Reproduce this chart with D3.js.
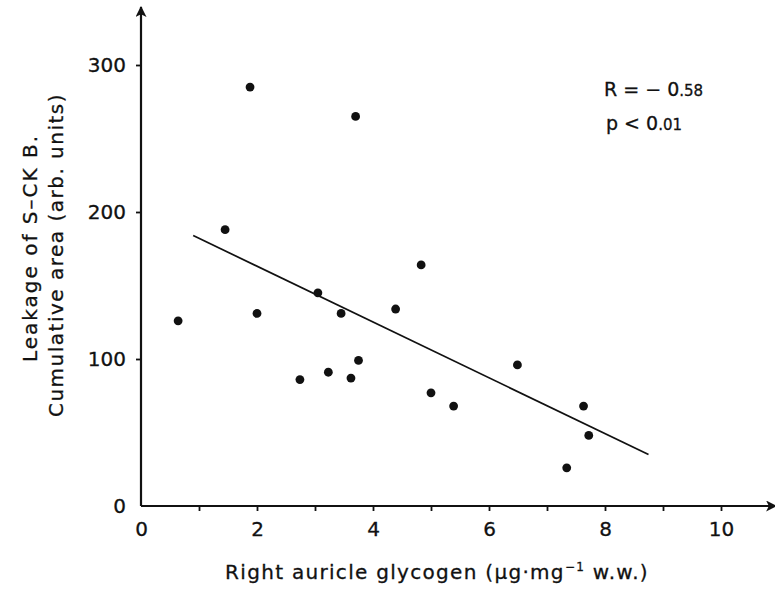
<!DOCTYPE html>
<html>
<head>
<meta charset="utf-8">
<script src="https://cdn.jsdelivr.net/npm/d3@7"></script>
<style>
  body { margin: 0; background: #fff; }
  svg text { font-family: "DejaVu Sans", sans-serif; fill: #111; stroke: #111; stroke-width: 0.3px; }
  .tick line { stroke: #111; stroke-width: 1.8; }
  .tick text { font-size: 20px; }
</style>
</head>
<body>
<div id="chart"></div>
<script>
// glycogen (ug/mg w.w.) vs S-CK B leakage (arb. units)
const glycogen = [0.64, 1.45, 1.88, 2.0, 2.74, 3.05, 3.23, 3.45, 3.62, 3.70,
                  3.75, 4.39, 4.83, 5.0, 5.39, 6.49, 7.34, 7.63, 7.72];
const leakage = [126, 188, 285, 131, 86, 145, 91, 131, 87, 265,
                 99, 134, 164, 77, 68, 96, 26, 68, 48];

// regression line end points
const fitX = [0.9, 8.75];
const fitY = [184, 35];

const xTicks = [0, 1, 2, 3, 4, 5, 6, 7, 8, 9, 10];
const yTicks = [100, 200, 300];
const yLabelTicks = [0, 100, 200, 300];

const width = 775, height = 592;

let svg = d3.select('#chart')
    .append('svg')
    .attr('width', width)
    .attr('height', height);

let x = d3.scaleLinear().domain([0, 10]).range([141, 721]);
let y = d3.scaleLinear().domain([0, 300]).range([506, 65]);

// arrow heads
const defs = svg.append('defs');
defs.append('marker')
    .attr('id', 'arrow')
    .attr('viewBox', '0 0 10 10')
    .attr('refX', 9).attr('refY', 5)
    .attr('markerWidth', 5).attr('markerHeight', 5)
    .attr('markerUnits', 'strokeWidth')
    .attr('orient', 'auto')
    .append('path')
    .attr('d', 'M0,0 L10,5 L0,10 L2.5,5 Z')
    .attr('fill', '#111');

// X axis
let xAxis = svg.append('g')
    .attr('transform', 'translate(0,' + y(0) + ')')
    .call(d3.axisBottom(x)
        .tickValues(xTicks)
        .tickSize(5)
        .tickPadding(11)
        .tickFormat(d => d % 2 === 0 ? d : ''));
xAxis.select('.domain').remove();
xAxis.selectAll('.tick').filter(d => d === 0).select('line').remove();

svg.append('line')
    .attr('x1', x(0)).attr('x2', 776)
    .attr('y1', y(0)).attr('y2', y(0))
    .attr('stroke', '#111').attr('stroke-width', 2.2)
    .attr('marker-end', 'url(#arrow)');

// Y axis
let yAxis = svg.append('g')
    .attr('transform', 'translate(' + x(0) + ',0)')
    .call(d3.axisLeft(y)
        .tickValues(yLabelTicks)
        .tickSize(5)
        .tickPadding(10));
yAxis.select('.domain').remove();
yAxis.selectAll('.tick').filter(d => !yTicks.includes(d)).select('line').remove();

svg.append('line')
    .attr('x1', x(0)).attr('x2', x(0))
    .attr('y1', y(0)).attr('y2', 7)
    .attr('stroke', '#111').attr('stroke-width', 2.2)
    .attr('marker-end', 'url(#arrow)');

// Axis titles
const xTitle = svg.append('text')
    .attr('x', 437)
    .attr('y', 579)
    .attr('text-anchor', 'middle')
    .style('font-size', '20px')
    .style('letter-spacing', '1.3px');
xTitle.append('tspan').text('Right auricle glycogen (\u00b5g\u00b7mg');
xTitle.append('tspan').attr('dy', -8).style('font-size', '12px').text('\u22121');
xTitle.append('tspan').attr('dy', 8).text(' w.w.)');

svg.append('text')
    .attr('transform', 'translate(37,248) rotate(-90)')
    .attr('text-anchor', 'middle')
    .style('font-size', '20px')
    .style('letter-spacing', '2px')
    .text('Leakage of S\u2013CK B.');

svg.append('text')
    .attr('transform', 'translate(63,255) rotate(-90)')
    .attr('text-anchor', 'middle')
    .style('font-size', '20px')
    .style('letter-spacing', '1.5px')
    .text('Cumulative area (arb. units)');

// Regression line
svg.append('path')
    .datum(d3.zip(fitX, fitY))
    .attr('fill', 'none')
    .attr('stroke', '#111')
    .attr('stroke-width', 1.7)
    .attr('d', d3.line()
        .x(d => x(d[0]))
        .y(d => y(d[1])));

// Points
svg.append('g')
    .selectAll('circle')
    .data(d3.zip(glycogen, leakage))
    .enter()
    .append('circle')
    .attr('cx', d => x(d[0]))
    .attr('cy', d => y(d[1]))
    .attr('r', 4.4)
    .attr('fill', '#111');

// Statistics
const rText = svg.append('text')
    .attr('x', 604).attr('y', 96)
    .style('font-size', '19px');
rText.append('tspan').text('R = \u2212 0');
rText.append('tspan').style('font-size', '15px').text('.58');

const pText = svg.append('text')
    .attr('x', 606).attr('y', 130)
    .style('font-size', '19px');
pText.append('tspan').text('p < 0');
pText.append('tspan').style('font-size', '15px').text('.01');
</script>
</body>
</html>
